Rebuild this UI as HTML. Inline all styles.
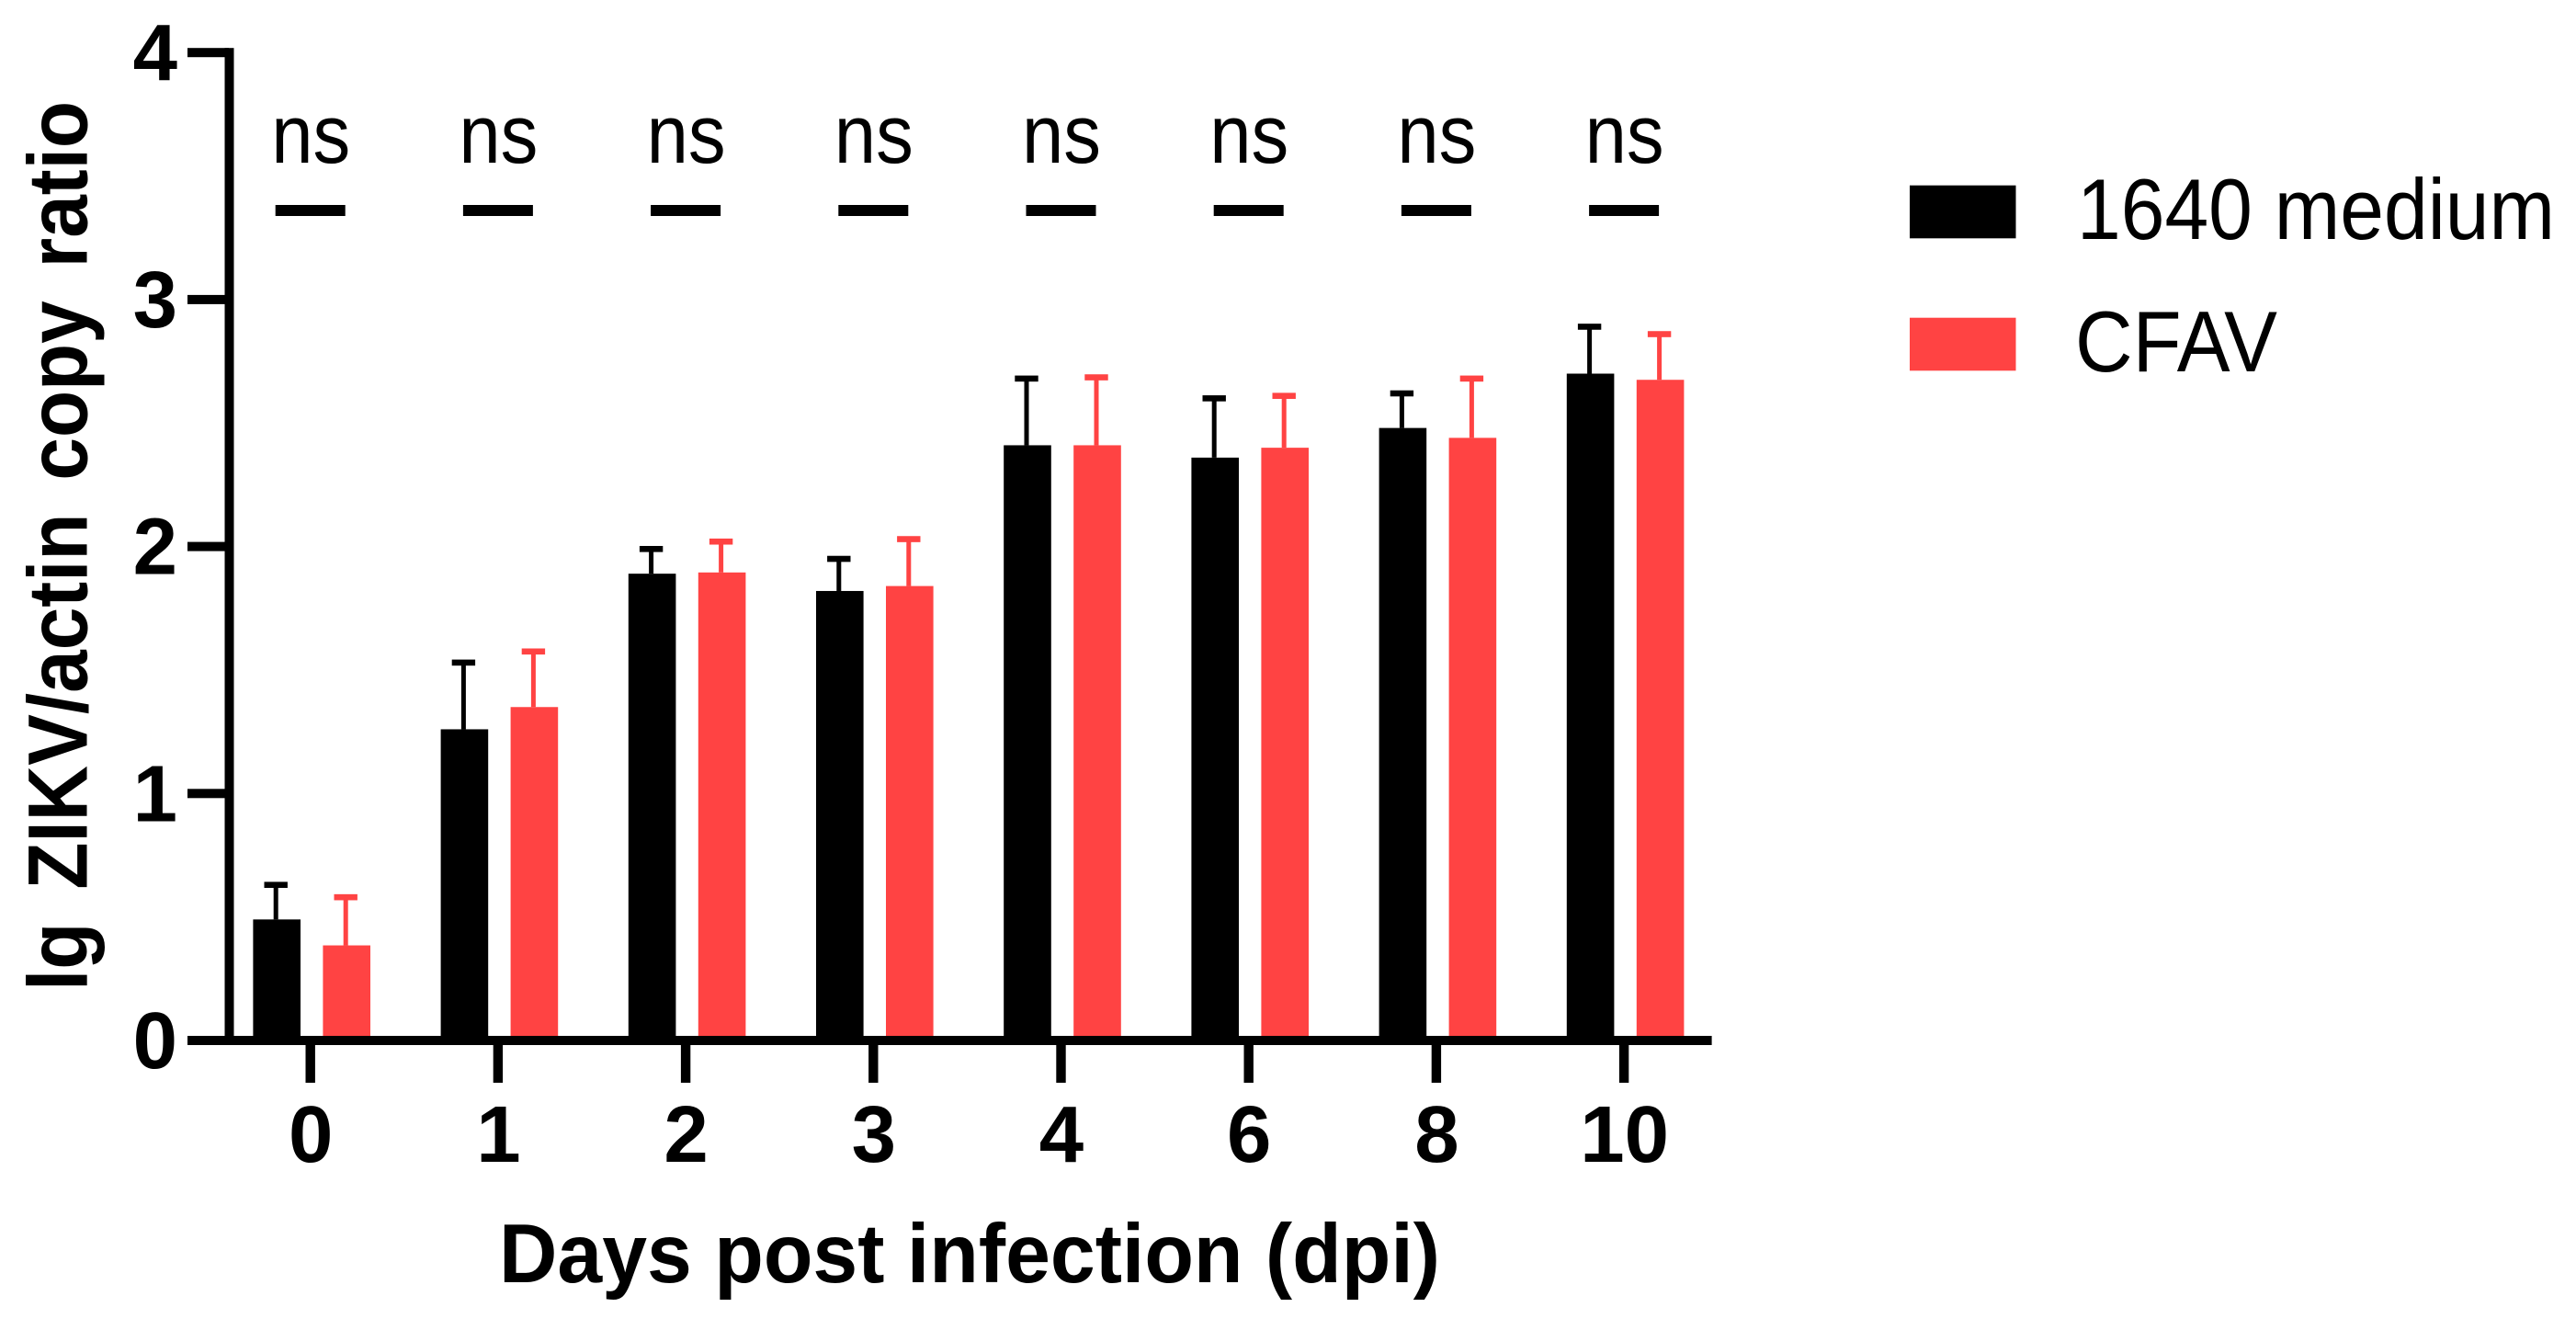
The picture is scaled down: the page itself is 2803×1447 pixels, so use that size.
<!DOCTYPE html>
<html lang="en">
<head>
<meta charset="utf-8">
<title>ZIKV/actin copy ratio</title>
<style>
html,body{margin:0;padding:0;background:#fff;width:2803px;height:1447px;overflow:hidden}
svg{display:block}
text{font-family:"Liberation Sans",Arial,sans-serif;fill:#000}
.b{font-weight:700}
</style>
</head>
<body>
<svg id="chart" xmlns="http://www.w3.org/2000/svg" width="2803" height="1447" viewBox="0 0 2803 1447">
  <rect width="2803" height="1447" fill="#fff"/>
  <g id="marks"></g>
  <g id="sig"></g>
  <g id="axes"></g>
  <text class="b" transform="translate(94.5,1078) rotate(-90)" font-size="92" word-spacing="14" textLength="968" lengthAdjust="spacingAndGlyphs">lg ZIKV/actin copy ratio</text>
  <text class="b" x="543" y="1395" font-size="91" textLength="1024" lengthAdjust="spacingAndGlyphs">Days post infection (dpi)</text>
  <g>
    <rect x="2078" y="201.7" width="115.5" height="57.6" fill="#000"/>
    <text x="2260" y="260" font-size="94" textLength="520" lengthAdjust="spacingAndGlyphs">1640 medium</text>
    <rect x="2078" y="345.7" width="115.5" height="57.6" fill="#ff4343"/>
    <text x="2258" y="404" font-size="94" textLength="220" lengthAdjust="spacingAndGlyphs">CFAV</text>
  </g>
</svg>
<script>
const categories = ["0", "1", "2", "3", "4", "6", "8", "10"];
const mediumValues = [0.49, 1.26, 1.89, 1.82, 2.41, 2.36, 2.48, 2.70];
const mediumUpper = [0.63, 1.53, 1.99, 1.95, 2.68, 2.60, 2.62, 2.89];
const cfavValues = [0.385, 1.35, 1.895, 1.84, 2.41, 2.40, 2.44, 2.675];
const cfavUpper = [0.58, 1.575, 2.02, 2.03, 2.685, 2.61, 2.68, 2.86];
const significance = ["ns", "ns", "ns", "ns", "ns", "ns", "ns", "ns"];
const yTickLabels = [0, 1, 2, 3, 4];

const NS = "http://www.w3.org/2000/svg";
function yScale(v) { return 1132 - 268.7 * v; }
function xScale(i) { return 337.7 + 204.2 * i; }

function make(tag, attrs, parent) {
  const el = document.createElementNS(NS, tag);
  for (const k in attrs) el.setAttribute(k, attrs[k]);
  parent.appendChild(el);
  return el;
}

const marks = document.getElementById("marks");
const sig = document.getElementById("sig");
const axes = document.getElementById("axes");

function drawSeries(values, upper, offset, color, name) {
  values.forEach(function (v, i) {
    const cx = xScale(i) + offset;
    const bar = make("rect", { x: cx - 25.8, y: yScale(v), width: 51.6, height: yScale(0) - yScale(v), fill: color }, marks);
    
    
    const top = yScale(upper[i]);
    const stem = make("rect", { x: cx - 3.5, y: top, width: 5, height: yScale(v) - top, fill: color }, marks);
    
    
    const cap = make("rect", { x: cx - 13.7, y: top - 3.3, width: 25.4, height: 6.6, fill: color }, marks);
    
    
  });
}
drawSeries(mediumValues, mediumUpper, -36.5, "#000", "1640-medium");
drawSeries(cfavValues, cfavUpper, 39.5, "#ff4343", "cfav");

significance.forEach(function (label, i) {
  const cx = xScale(i);
  const t = make("text", { x: cx + 0.5, y: 177, "font-size": 90, "text-anchor": "middle", textLength: 86, lengthAdjust: "spacingAndGlyphs" }, sig);
  t.textContent = label;
  
  
  const line = make("rect", { x: cx - 38, y: 223, width: 76, height: 12, fill: "#000" }, sig);
  
  
});

const yAxisLine = make("rect", { x: 244.5, y: yScale(4) - 5, width: 10, height: yScale(0) - yScale(4) + 10, fill: "#000" }, axes);



const xAxisLine = make("rect", { x: 204, y: yScale(0) - 5, width: 1658.6, height: 10, fill: "#000" }, axes);



yTickLabels.forEach(function (v) {
  const tick = make("rect", { x: 204, y: yScale(v) - 5, width: 45, height: 10, fill: "#000" }, axes);
  
  
  const t = make("text", { class: "b", x: 193, y: yScale(v) + 30, "font-size": 87, "text-anchor": "end" }, axes);
  t.textContent = v;
  
  
});

categories.forEach(function (c, i) {
  const cx = xScale(i);
  const tick = make("rect", { x: cx - 5.2, y: yScale(0), width: 10.4, height: 46, fill: "#000" }, axes);
  
  
  const t = make("text", { class: "b", x: cx + 0.5, y: 1264, "font-size": 87, "text-anchor": "middle" }, axes);
  t.textContent = c;
  
  
});
</script>
</body>
</html>
